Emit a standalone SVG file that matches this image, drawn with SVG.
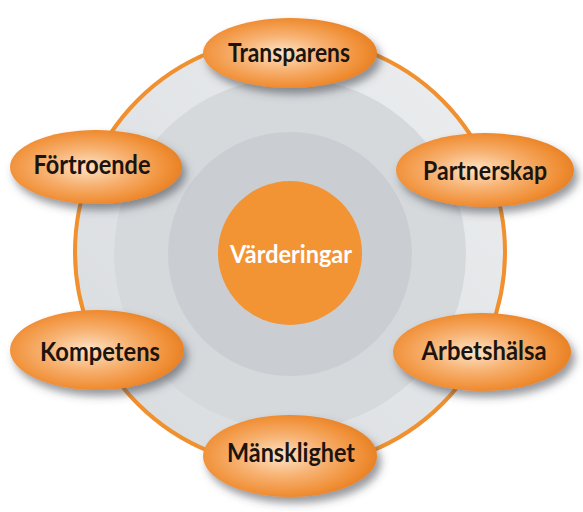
<svg xmlns="http://www.w3.org/2000/svg" width="583" height="512" viewBox="0 0 583 512">
<defs>
<radialGradient id="og" cx="0.45" cy="0.5" r="0.55">
<stop offset="0" stop-color="#fde3c6"/>
<stop offset="0.45" stop-color="#f7b272"/>
<stop offset="0.85" stop-color="#f08f36"/>
<stop offset="1" stop-color="#e88226"/>
</radialGradient>
<linearGradient id="bg" x1="0" y1="1" x2="1" y2="0">
<stop offset="0" stop-color="#d8dbde"/>
<stop offset="1" stop-color="#eceef0"/>
</linearGradient>
<filter id="sh" x="-20%" y="-30%" width="150%" height="170%">
<feDropShadow dx="4" dy="6" stdDeviation="4" flood-color="#40454c" flood-opacity="0.55"/>
</filter>
<style>
.n{fill:url(#og);filter:url(#sh)}
.t{font-family:Lato,"Open Sans","Liberation Sans",sans-serif;font-weight:bold;font-size:26px;fill:#1c140e;text-anchor:middle}
.c{font-family:Lato,"Open Sans","Liberation Sans",sans-serif;font-weight:bold;font-size:25px;fill:#ffffff;text-anchor:middle}
</style>
</defs>
<rect width="583" height="512" fill="#ffffff"/>
<g id="background">
<circle cx="290" cy="252" r="215" fill="url(#bg)" stroke="#f0902f" stroke-width="4"/>
<circle cx="290" cy="254" r="176" fill="#d6d9dc"/>
<circle cx="290" cy="254" r="122" fill="#caced2"/>
</g>
<g id="connectors"></g>
<g id="center">
<circle cx="290" cy="253" r="72" fill="#f29434"/>
<text class="c" x="291" y="263" textLength="122" lengthAdjust="spacingAndGlyphs">Värderingar</text>
</g>
<g id="transparens">
<ellipse class="n" cx="290" cy="53" rx="87" ry="35"/>
<text class="t" x="289" y="62" textLength="122" lengthAdjust="spacingAndGlyphs">Transparens</text>
</g>
<g id="fortroende">
<ellipse class="n" cx="96" cy="167" rx="86" ry="37"/>
<text class="t" x="92" y="174" textLength="117" lengthAdjust="spacingAndGlyphs">Förtroende</text>
</g>
<g id="partnerskap">
<ellipse class="n" cx="485" cy="170" rx="89" ry="37"/>
<text class="t" x="485" y="180" textLength="124" lengthAdjust="spacingAndGlyphs">Partnerskap</text>
</g>
<g id="arbetshalsa">
<ellipse class="n" cx="482" cy="352" rx="89" ry="39"/>
<text class="t" x="484" y="360" textLength="125" lengthAdjust="spacingAndGlyphs">Arbetshälsa</text>
</g>
<g id="kompetens">
<ellipse class="n" cx="97" cy="350" rx="87" ry="40"/>
<text class="t" x="100" y="361" textLength="120" lengthAdjust="spacingAndGlyphs">Kompetens</text>
</g>
<g id="mansklighet">
<ellipse class="n" cx="290" cy="456" rx="87" ry="41"/>
<text class="t" x="291" y="462" textLength="128" lengthAdjust="spacingAndGlyphs">Mänsklighet</text>
</g>
</svg>
